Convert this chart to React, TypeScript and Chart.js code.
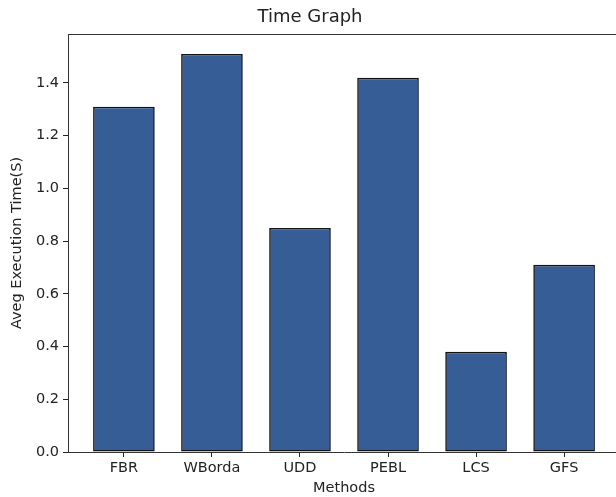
import React, { useEffect, useRef } from "react";
import { Chart, registerables } from "chart.js";

Chart.register(...registerables);

const categories = ["FBR", "WBorda", "UDD", "PEBL", "LCS", "GFS"];
const values = [1.31, 1.51, 0.85, 1.42, 0.38, 0.71];
const yTicks = [0, 0.2, 0.4, 0.6, 0.8, 1.0, 1.2, 1.4];

const frame = {
  id: "frame",
  afterDatasetsDraw(chart: any) {
    const { ctx, chartArea } = chart;
    ctx.save();
    ctx.strokeStyle = "#333";
    ctx.lineWidth = 1;
    ctx.beginPath();
    ctx.moveTo(chartArea.left, chartArea.top + 0.5);
    ctx.lineTo(chartArea.right, chartArea.top + 0.5);
    ctx.stroke();
    ctx.restore();
  },
};

export default function App() {
  const ref = useRef<HTMLCanvasElement>(null);
  useEffect(() => {
    const font = "'DejaVu Sans', sans-serif";
    const chart = new Chart(ref.current!, {
      type: "bar",
      data: {
        datasets: [
          {
            data: values.map((v, i) => ({ x: i, y: v })),
            backgroundColor: "#375D96",
            borderColor: "#111",
            borderWidth: 1.6,
            borderSkipped: false,
            barPercentage: 0.7,
            categoryPercentage: 1,
          },
        ],
      },
      options: {
        animation: false,
        responsive: false,
        layout: { padding: 0 },
        plugins: {
          legend: { display: false },
          tooltip: { enabled: false },
          title: {
            display: true,
            text: "Time Graph",
            color: "#222",
            font: { family: font, size: 18, weight: "normal" },
            padding: { top: 6.2, bottom: 6.2 },
          },
        },
        scales: {
          x: {
            type: "linear",
            min: -0.635,
            max: 5.635,
            offset: false,
            afterBuildTicks: (s: any) => {
              s.ticks = categories.map((_, i) => ({ value: i }));
            },
            afterFit: (s: any) => {
              s.height = 45;
            },
            ticks: {
              autoSkip: false,
              maxRotation: 0,
              color: "#222",
              font: { family: font, size: 14.5 },
              padding: 3,
              callback: (v: any) => categories[v as number] ?? "",
            },
            grid: {
              display: true,
              offset: false,
              drawOnChartArea: false,
              drawTicks: true,
              tickLength: 5,
              color: "#222",
            },
            border: { display: true, color: "#333", width: 1 },
            title: {
              display: true,
              text: "Methods",
              color: "#222",
              font: { family: font, size: 14.5 },
              padding: { top: 0, bottom: 0 },
            },
          },
          y: {
            type: "linear",
            min: 0,
            max: 1.5855,
            afterBuildTicks: (s: any) => {
              s.ticks = yTicks.map((v) => ({ value: v }));
            },
            afterFit: (s: any) => {
              s.width = 68;
            },
            ticks: {
              color: "#222",
              font: { family: font, size: 14.5 },
              padding: 4,
              callback: (v: any) => Number(v).toFixed(1),
            },
            grid: {
              display: true,
              drawOnChartArea: false,
              drawTicks: true,
              tickLength: 5,
              color: "#222",
            },
            border: { display: true, color: "#333", width: 1 },
            title: {
              display: true,
              text: "Aveg Execution Time(S)",
              color: "#222",
              font: { family: font, size: 14.5 },
              padding: { top: 9, bottom: 0 },
            },
          },
        },
      },
      plugins: [frame],
    });
    return () => chart.destroy();
  }, []);
  return (
    <div
      style={{
        position: "fixed",
        left: 0,
        top: 0,
        width: 616,
        height: 497,
        overflow: "hidden",
        background: "#fff",
      }}
    >
      <canvas ref={ref} width={620} height={497} style={{ display: "block" }} />
    </div>
  );
}
